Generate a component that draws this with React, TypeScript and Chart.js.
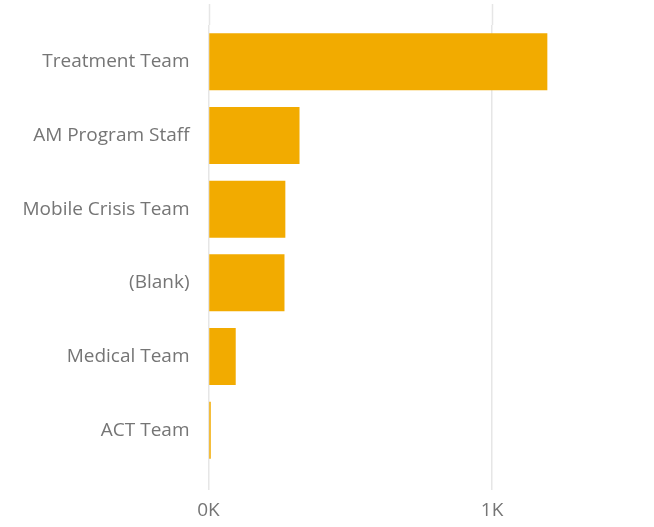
import React, { useEffect, useRef } from "react";
import { Chart, registerables } from "chart.js";

Chart.register(...registerables);

const categories = [
  "Treatment Team",
  "AM Program Staff",
  "Mobile Crisis Team",
  "(Blank)",
  "Medical Team",
  "ACT Team",
];
const counts = [1195, 321, 271, 268, 96, 8];
const xTickValues = [0, 1000];

const BAR_COLOR = "#F2AB00";
const GRID_COLOR = "#E6E6E6";
const TEXT_COLOR = "#757575";
const FONT = "'Open Sans', 'Noto Sans', sans-serif";

const gridExtend = {
  id: "gridExtend",
  beforeDatasetsDraw(chart: any) {
    const ctx = chart.ctx;
    const xs = chart.scales.x;
    const area = chart.chartArea;
    ctx.save();
    ctx.strokeStyle = GRID_COLOR;
    ctx.lineWidth = 1.5;
    xTickValues.forEach((v) => {
      const px = Math.round(xs.getPixelForValue(v)) + 0.5;
      ctx.beginPath();
      ctx.moveTo(px, 4);
      ctx.lineTo(px, area.top);
      ctx.stroke();
    });
    ctx.restore();
  },
};

export default function App() {
  const ref = useRef<HTMLCanvasElement | null>(null);
  useEffect(() => {
    if (!ref.current) return;
    const chart = new Chart(ref.current, {
      type: "bar",
      data: {
        labels: categories,
        datasets: [
          {
            data: counts,
            backgroundColor: BAR_COLOR,
            borderWidth: 0,
            categoryPercentage: 1,
            barPercentage: 0.774,
          },
        ],
      },
      options: {
        indexAxis: "y",
        animation: false,
        responsive: false,
        maintainAspectRatio: false,
        layout: { padding: { top: 25, right: 6, left: 0, bottom: 0 } },
        plugins: {
          legend: { display: false },
          tooltip: { enabled: false },
        },
        scales: {
          x: {
            min: 0,
            max: 1550,
            afterBuildTicks: (scale: any) => {
              scale.ticks = xTickValues.map((v) => ({ value: v }));
            },
            afterFit: (scale: any) => {
              scale.height = 60;
            },
            border: { display: false },
            grid: {
              color: GRID_COLOR,
              lineWidth: 1.5,
              drawTicks: true,
              tickLength: 23,
              tickColor: GRID_COLOR,
            },
            ticks: {
              color: TEXT_COLOR,
              padding: 9,
              font: { family: FONT, size: 19 },
              callback: (v: any) => Number(v) / 1000 + "K",
            },
          },
          y: {
            afterFit: (scale: any) => {
              scale.width = 208.5;
              scale.paddingTop = 0;
              scale.paddingBottom = 0;
            },
            border: { display: false },
            grid: { display: false, drawTicks: false },
            ticks: {
              color: TEXT_COLOR,
              padding: 19,
              font: { family: FONT, size: 19 },
            },
          },
        },
      },
      plugins: [gridExtend],
    });
    return () => chart.destroy();
  }, []);
  return (
    <div style={{ position: "fixed", left: 0, top: 0, width: 654, height: 527, background: "#fff" }}>
      <canvas ref={ref} width={654} height={527} style={{ width: 654, height: 527 }} />
    </div>
  );
}
